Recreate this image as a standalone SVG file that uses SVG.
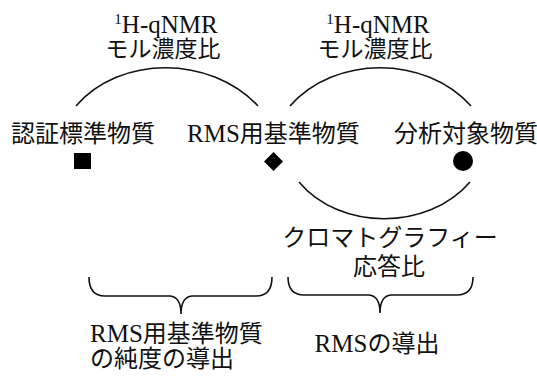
<svg xmlns="http://www.w3.org/2000/svg" width="537" height="381" viewBox="0 0 537 381">
<style>
text{font-family:"Liberation Serif","Noto Sans CJK JP",serif;font-size:24px;fill:#111}
.c{text-anchor:middle}
.sup{font-size:15px}
.lat{font-size:25px}
.ln{fill:none;stroke:#111;stroke-width:1.6}
.mk{fill:#000}
</style>
<rect width="537" height="381" fill="#fff"/>
<g id="connectors">
<path class="ln" d="M76,106 C120,55 210,55 258,106"/>
<path class="ln" d="M290,106 C335,55 425,55 471,106"/>
<path class="ln" d="M299,182 C340,231 428,231 470,182"/>
<path class="ln" d="M89,277 Q89,296 105,296 L170,296 Q181,297 181,314 Q181,297 192,296 L256,296 Q272,296 272,277"/>
<path class="ln" d="M288,277 Q288,295 304,295 L369,295 Q380,296 380,313 Q380,296 391,295 L457,295 Q473,295 473,277"/>
</g>
<g id="label-qnmr-left">
<text class="c" x="166" y="33"><tspan class="sup" dy="-9">1</tspan><tspan class="lat" dy="9">H-qNMR</tspan></text>
<text class="c" x="163" y="57" style="font-size:23px">モル濃度比</text>
</g>
<g id="label-qnmr-right">
<text class="c" x="378" y="33"><tspan class="sup" dy="-9">1</tspan><tspan class="lat" dy="9">H-qNMR</tspan></text>
<text class="c" x="375" y="57" style="font-size:23px">モル濃度比</text>
</g>
<g id="node-crm">
<text x="11" y="142">認証標準物質</text>
<rect class="mk" x="74" y="153" width="17" height="16"/>
</g>
<g id="node-rms">
<text x="187" y="142"><tspan class="lat">RMS</tspan>用基準物質</text>
<polygon class="mk" points="273.5,152 283,161.5 273.5,171 264,161.5"/>
</g>
<g id="node-analyte">
<text x="394" y="142">分析対象物質</text>
<circle class="mk" cx="463" cy="161" r="10"/>
</g>
<g id="label-chrom">
<text class="c" x="390" y="246">クロマトグラフィー</text>
<text class="c" x="389" y="275">応答比</text>
</g>
<g id="label-purity">
<text x="90" y="342"><tspan class="lat">RMS</tspan>用基準物質</text>
<text x="90" y="367">の純度の導出</text>
</g>
<g id="label-rms">
<text class="c" x="377" y="352"><tspan class="lat">RMS</tspan>の導出</text>
</g>
</svg>
